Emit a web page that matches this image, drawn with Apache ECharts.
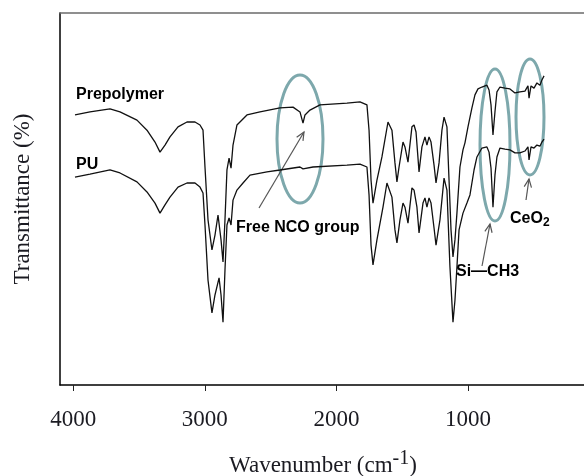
<!DOCTYPE html>
<html>
<head>
<meta charset="utf-8">
<title>FTIR spectra</title>
<script src="https://cdn.jsdelivr.net/npm/echarts@6/dist/echarts.min.js"></script>
<style>
  html, body { margin: 0; padding: 0; background: #fff; }
  #chart { width: 584px; height: 476px; }
</style>
</head>
<body>
<div id="chart"></div>
<script>
// wavenumber (cm-1) and transmittance (arbitrary, %)
const prepolymerWn = [3987, 3873, 3721, 3645, 3516, 3440, 3379, 3341, 3303, 3265, 3204, 3136, 3075, 3037, 3014,
  2999, 2976, 2946, 2923, 2900, 2877, 2862, 2847, 2832, 2816, 2801, 2786, 2756, 2680, 2581, 2429, 2330, 2277,
  2254, 2239, 2201, 2125, 1920, 1821, 1768, 1752, 1737, 1722, 1692, 1654, 1608, 1578, 1555, 1540, 1524, 1494,
  1479, 1456, 1426, 1410, 1395, 1372, 1350, 1327, 1312, 1296, 1281, 1258, 1243, 1220, 1198, 1182, 1160, 1144,
  1129, 1114, 1099, 1084, 1061, 1038, 1023, 1000, 970, 947, 924, 894, 856, 840, 825, 810, 795, 780, 757, 719,
  681, 643, 605, 567, 544, 536, 521, 498, 476, 453, 438, 422];
const prepolymerT = [72.6, 73.4, 74.2, 73.4, 71.2, 68.5, 65.3, 62.6, 64.5, 66.7, 69.4, 70.7, 70.7, 69.9, 68.5,
  58.6, 44.4, 36.3, 40.3, 45.7, 39.0, 33.1, 44.4, 57.8, 61.0, 58.3, 64.5, 69.9, 72.6, 73.4, 74.5, 74.7, 73.4,
  70.4, 72.6, 73.9, 75.3, 75.8, 76.1, 75.3, 68.5, 55.1, 48.9, 55.1, 61.3, 70.7, 68.5, 59.7, 54.6, 58.6, 65.3,
  64.0, 59.9, 69.4, 69.9, 68.0, 57.3, 64.0, 66.7, 64.5, 66.7, 65.3, 59.1, 54.3, 59.7, 68.5, 72.0, 69.4, 55.1,
  41.7, 34.4, 39.0, 46.2, 58.6, 63.2, 65.1, 69.4, 74.5, 78.0, 79.6, 80.1, 80.6, 79.3, 75.3, 67.2, 73.4, 78.8,
  80.1, 79.8, 79.6, 78.5, 78.8, 79.0, 80.4, 77.1, 80.4, 79.8, 81.2, 80.6, 82.0, 83.1];

const puWn = [3987, 3873, 3721, 3645, 3516, 3440, 3379, 3341, 3303, 3265, 3204, 3136, 3075, 3037, 3014,
  2999, 2976, 2946, 2923, 2892, 2877, 2862, 2847, 2832, 2816, 2801, 2786, 2756, 2710, 2657, 2528, 2429, 2277,
  2254, 2178, 1920, 1821, 1768, 1752, 1737, 1722, 1692, 1646, 1616, 1578, 1555, 1540, 1517, 1494, 1479, 1456,
  1426, 1410, 1388, 1372, 1342, 1327, 1312, 1296, 1281, 1258, 1243, 1213, 1182, 1160, 1137, 1114, 1099, 1084,
  1068, 1038, 1008, 985, 954, 932, 894, 856, 840, 825, 810, 795, 780, 757, 719, 681, 643, 605, 567, 544, 536,
  521, 498, 476, 453, 438, 422];
const puT = [55.9, 56.7, 57.8, 57.0, 54.6, 51.9, 48.9, 46.2, 48.4, 50.5, 53.2, 54.3, 54.3, 53.2, 51.6,
  43.0, 28.2, 19.4, 24.2, 28.8, 24.2, 16.9, 30.9, 43.0, 44.9, 43.0, 49.7, 52.4, 54.3, 56.4, 57.3, 57.8, 58.6,
  58.1, 58.6, 59.1, 59.4, 58.6, 51.1, 37.6, 32.3, 39.0, 47.8, 54.3, 50.5, 41.7, 38.2, 44.4, 48.9, 47.8, 43.5,
  53.0, 52.4, 47.8, 40.9, 48.9, 50.3, 47.8, 50.3, 48.9, 42.2, 37.6, 44.4, 55.6, 52.4, 31.7, 16.9, 22.8, 31.7,
  41.7, 46.2, 48.9, 51.1, 57.8, 61.3, 63.7, 64.0, 62.6, 58.3, 47.8, 56.4, 61.3, 63.7, 63.4, 63.2, 62.4, 62.4,
  62.9, 64.0, 60.5, 64.0, 63.7, 64.5, 64.2, 65.3, 66.1];

const xTicks = [1000, 2000, 3000, 4000];

const SERIF = '"Liberation Serif", "Times New Roman", serif';
const SANS = '"Liberation Sans", Arial, sans-serif';
const TEAL = '#7da8ac';
const ARROW = '#555';

const chart = echarts.init(document.getElementById('chart'));

function pairs(xs, ys) {
  return xs.map((x, i) => [x, ys[i]]);
}

// open "V" arrow from tail to tip
function arrow(x1, y1, x2, y2) {
  const a = Math.atan2(y2 - y1, x2 - x1);
  const len = 9;
  const spread = 0.42;
  const style = { stroke: ARROW, lineWidth: 1.2, fill: null };
  return [
    { type: 'line', shape: { x1, y1, x2, y2 }, style },
    {
      type: 'polyline',
      shape: {
        points: [
          [x2 - len * Math.cos(a - spread), y2 - len * Math.sin(a - spread)],
          [x2, y2],
          [x2 - len * Math.cos(a + spread), y2 - len * Math.sin(a + spread)],
        ],
      },
      style,
    },
  ];
}

function ring(cx, cy, rx, ry) {
  return { type: 'ellipse', shape: { cx, cy, rx, ry }, style: { fill: null, stroke: TEAL, lineWidth: 3 } };
}

function label(text, x, y, extra) {
  return {
    type: 'text',
    x,
    y,
    style: Object.assign(
      { text, fill: '#000', font: 'bold 16px ' + SANS, verticalAlign: 'middle' },
      extra || {}
    ),
  };
}

const lineStyle = { color: '#111', width: 1.3 };

chart.setOption({
  animation: false,
  grid: { left: 60, top: 13, right: -2, bottom: 91, containLabel: false, outerBoundsMode: 'none' },
  xAxis: [
    {
      type: 'value',
      inverse: true,
      min: 103,
      max: 4101,
      name: '{a|Wavenumber (cm}{s|-1}{a|)}',
      nameLocation: 'middle',
      nameGap: 64,
      nameTextStyle: {
        rich: {
          a: { fontFamily: SERIF, fontSize: 23, color: '#1b1b22' },
          s: { fontFamily: SERIF, fontSize: 20, color: '#1b1b22', padding: [0, 0, 13, 0] },
        },
      },
      axisLine: { lineStyle: { color: '#000', width: 1.5 } },
      axisTick: { show: true, length: 6, customValues: xTicks, lineStyle: { color: '#222', width: 1 } },
      axisLabel: {
        customValues: xTicks,
        formatter: (v) => String(v),
        margin: 23,
        fontFamily: SERIF,
        fontSize: 23,
        color: '#1b1b22',
      },
      splitLine: { show: false },
    },
    {
      type: 'value',
      position: 'top',
      inverse: true,
      min: 103,
      max: 4101,
      axisLine: { lineStyle: { color: '#6b6b6b', width: 1.5 } },
      axisTick: { show: false },
      axisLabel: { show: false },
      splitLine: { show: false },
    },
  ],
  yAxis: {
    type: 'value',
    min: 0,
    max: 100,
    name: 'Transmittance (%)',
    nameLocation: 'middle',
    nameGap: 26,
    nameTextStyle: { fontFamily: SERIF, fontSize: 23, color: '#1b1b22' },
    axisLine: { show: true, lineStyle: { color: '#000', width: 1.5 } },
    axisTick: { show: false },
    axisLabel: { show: false },
    splitLine: { show: false },
  },
  series: [
    { name: 'Prepolymer', type: 'line', showSymbol: false, data: pairs(prepolymerWn, prepolymerT), lineStyle },
    { name: 'PU', type: 'line', showSymbol: false, data: pairs(puWn, puT), lineStyle },
  ],
  graphic: [
    ring(300, 139, 23, 64),
    ring(495, 145, 15, 76),
    ring(530, 117, 14, 58),
    ...arrow(259, 208, 304, 132),
    ...arrow(482, 266, 490, 224),
    ...arrow(526, 200, 529, 179),
    label('Prepolymer', 76, 95),
    label('PU', 76, 165),
    label('Free NCO group', 236, 228),
    label('Si\u2014CH3', 456, 272),
    label('CeO{sub|2}', 510, 219, { rich: { sub: { fontSize: 12, fontWeight: 'bold', fontFamily: SANS, padding: [7, 0, 0, 0] } } }),
  ],
});
</script>
</body>
</html>
